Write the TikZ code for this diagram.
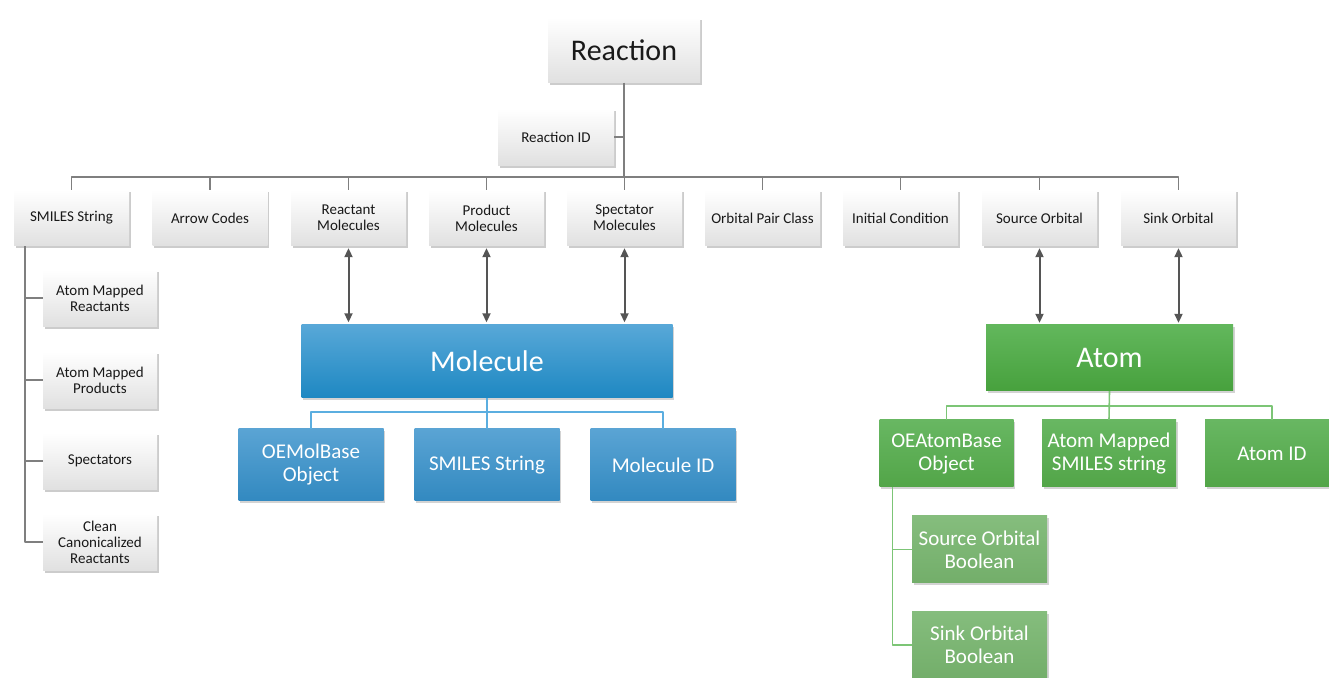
\documentclass[tikz,border=0pt]{standalone}
\usepackage{fontspec}
\setmainfont{Carlito}
\usetikzlibrary{arrows.meta}
\usetikzlibrary{shadows}

\definecolor{linegray}{HTML}{7F7F7F}
\definecolor{arrowgray}{HTML}{555555}
\definecolor{blueline}{HTML}{5BAEE0}
\definecolor{greenline}{HTML}{7CC576}
\definecolor{bluetop}{HTML}{58A8D8}
\definecolor{bluebot}{HTML}{1E88C2}
\definecolor{blueltop}{HTML}{5AA4D4}
\definecolor{bluelbot}{HTML}{3289C0}
\definecolor{greentop}{HTML}{62B75C}
\definecolor{greenbot}{HTML}{47A13D}
\definecolor{greenmtop}{HTML}{68B762}
\definecolor{greenmbot}{HTML}{52A548}
\definecolor{greenltop}{HTML}{85BD7D}
\definecolor{greenlbot}{HTML}{73AE6A}

\begin{document}
\begin{tikzpicture}[>={Triangle[length=9bp,width=8bp]},line join=bevel,
  graybox/.style={inner sep=0pt,align=center,text=black!90,top color=white,bottom color=black!12,
    drop shadow={shadow xshift=1.5bp,shadow yshift=-2.5bp,opacity=0.4},
    font=\fontsize{15bp}{16bp}\selectfont},
  bluebox/.style={inner sep=0pt,align=center,text=white,top color=blueltop,bottom color=bluelbot,
    drop shadow={shadow xshift=1.5bp,shadow yshift=-2.5bp,opacity=0.35},
    font=\fontsize{21bp}{23bp}\selectfont},
  greenbox/.style={inner sep=0pt,align=center,text=white,top color=greenmtop,bottom color=greenmbot,
    drop shadow={shadow xshift=1.5bp,shadow yshift=-2.5bp,opacity=0.35},
    font=\fontsize{21bp}{23bp}\selectfont},
  tree/.style={draw=linegray,line width=1.6bp},
]
\useasboundingbox (0bp,0bp) rectangle (1329bp,678bp);
%%
\node (node_0) at (624bp,628bp) [graybox,minimum width=152bp,minimum height=65bp,
  font=\fontsize{30bp}{32bp}\selectfont] {Reaction};
\node (node_1) at (556bp,541bp) [graybox,minimum width=116bp,minimum height=57bp] {Reaction ID};
%
\node (node_2) at (71.5bp,460bp) [graybox,minimum width=115bp,minimum height=56bp] {SMILES String};
\node (node_3) at (210bp,460bp) [graybox,minimum width=115bp,minimum height=56bp] {Arrow Codes};
\node (node_4) at (348.5bp,460bp) [graybox,minimum width=115bp,minimum height=56bp] {Reactant\\Molecules};
\node (node_5) at (486.5bp,460bp) [graybox,minimum width=115bp,minimum height=56bp] {Product\\Molecules};
\node (node_6) at (624.5bp,460bp) [graybox,minimum width=115bp,minimum height=56bp] {Spectator\\Molecules};
\node (node_7) at (762.5bp,460bp) [graybox,minimum width=115bp,minimum height=56bp] {Orbital Pair Class};
\node (node_8) at (900.5bp,460bp) [graybox,minimum width=115bp,minimum height=56bp] {Initial Condition};
\node (node_9) at (1039.5bp,460bp) [graybox,minimum width=115bp,minimum height=56bp] {Source Orbital};
\node (node_10) at (1178.5bp,460bp) [graybox,minimum width=115bp,minimum height=56bp] {Sink Orbital};
%
\node (node_11) at (100bp,380bp) [graybox,minimum width=114bp,minimum height=57bp] {Atom Mapped\\Reactants};
\node (node_12) at (100bp,298bp) [graybox,minimum width=114bp,minimum height=57bp] {Atom Mapped\\Products};
\node (node_13) at (100bp,217bp) [graybox,minimum width=114bp,minimum height=57bp] {Spectators};
\node (node_14) at (100bp,136bp) [graybox,minimum width=114bp,minimum height=57bp] {Clean\\Canonicalized\\Reactants};
%
\node (node_15) at (487bp,317bp) [bluebox,minimum width=371bp,minimum height=73bp,
  top color=bluetop,bottom color=bluebot,font=\fontsize{30bp}{32bp}\selectfont] {Molecule};
\node (node_16) at (311bp,213bp) [bluebox,minimum width=145bp,minimum height=72bp] {OEMolBase\\Object};
\node (node_17) at (487bp,213bp) [bluebox,minimum width=145bp,minimum height=72bp] {SMILES String};
\node (node_18) at (663bp,213bp) [bluebox,minimum width=145bp,minimum height=72bp] {Molecule ID};
%
\node (node_19) at (1109.5bp,320bp) [greenbox,minimum width=247bp,minimum height=66bp,
  top color=greentop,bottom color=greenbot,font=\fontsize{30bp}{32bp}\selectfont] {Atom};
\node (node_20) at (946.5bp,224.5bp) [greenbox,minimum width=134bp,minimum height=67bp] {OEAtomBase\\Object};
\node (node_21) at (1109bp,224.5bp) [greenbox,minimum width=134bp,minimum height=67bp] {Atom Mapped\\SMILES string};
\node (node_22) at (1272bp,224.5bp) [greenbox,minimum width=134bp,minimum height=67bp] {Atom ID};
\node (node_23) at (979.5bp,128.5bp) [greenbox,minimum width=135bp,minimum height=67bp,
  top color=greenltop,bottom color=greenlbot] {Source Orbital\\Boolean};
\node (node_24) at (979.5bp,33bp) [greenbox,minimum width=135bp,minimum height=67bp,
  top color=greenltop,bottom color=greenlbot] {Sink Orbital\\Boolean};
%
\coordinate (bus_0) at (0bp,501bp);
\draw [tree] (node_0.south) -- (node_0.south |- bus_0);
\draw [tree] (node_1.east) -- (node_1.east -| node_0.south);
\draw [tree] (node_2.north) -- (node_2.north |- bus_0) -- (node_10.north |- bus_0) -- (node_10.north);
\foreach \n in {3,...,9}
  \draw [tree] (node_\n.north) -- (node_\n.north |- bus_0);
\coordinate (stem_0) at ([xshift=11bp]node_2.south west);
\draw [tree] (stem_0) -- (stem_0 |- node_14.west) -- (node_14.west);
\foreach \n in {11,12,13}
  \draw [tree] (stem_0 |- node_\n.west) -- (node_\n.west);
%
\foreach \n in {4,5,6}
  \draw [arrowgray,line width=2bp,<->,shorten <=2bp,shorten >=2bp] (node_\n.south) -- (node_\n.south |- node_15.north);
\foreach \n in {9,10}
  \draw [arrowgray,line width=2bp,<->,shorten <=2bp,shorten >=2bp] (node_\n.south) -- (node_\n.south |- node_19.north);
%
\coordinate (bus_1) at (0bp,266bp);
\draw [tree,draw=blueline] (node_15.south) -- (node_17.north);
\draw [tree,draw=blueline] (node_16.north) -- (node_16.north |- bus_1) -- (node_18.north |- bus_1) -- (node_18.north);
\coordinate (bus_2) at (0bp,272bp);
\draw [tree,draw=greenline] (node_19.south) -- (node_21.north);
\draw [tree,draw=greenline] (node_20.north) -- (node_20.north |- bus_2) -- (node_22.north |- bus_2) -- (node_22.north);
\coordinate (stem_1) at ([xshift=13bp]node_20.south west);
\draw [tree,draw=greenline] (stem_1) -- (stem_1 |- node_24.west) -- (node_24.west);
\draw [tree,draw=greenline] (stem_1 |- node_23.west) -- (node_23.west);
%
\end{tikzpicture}
\end{document}
